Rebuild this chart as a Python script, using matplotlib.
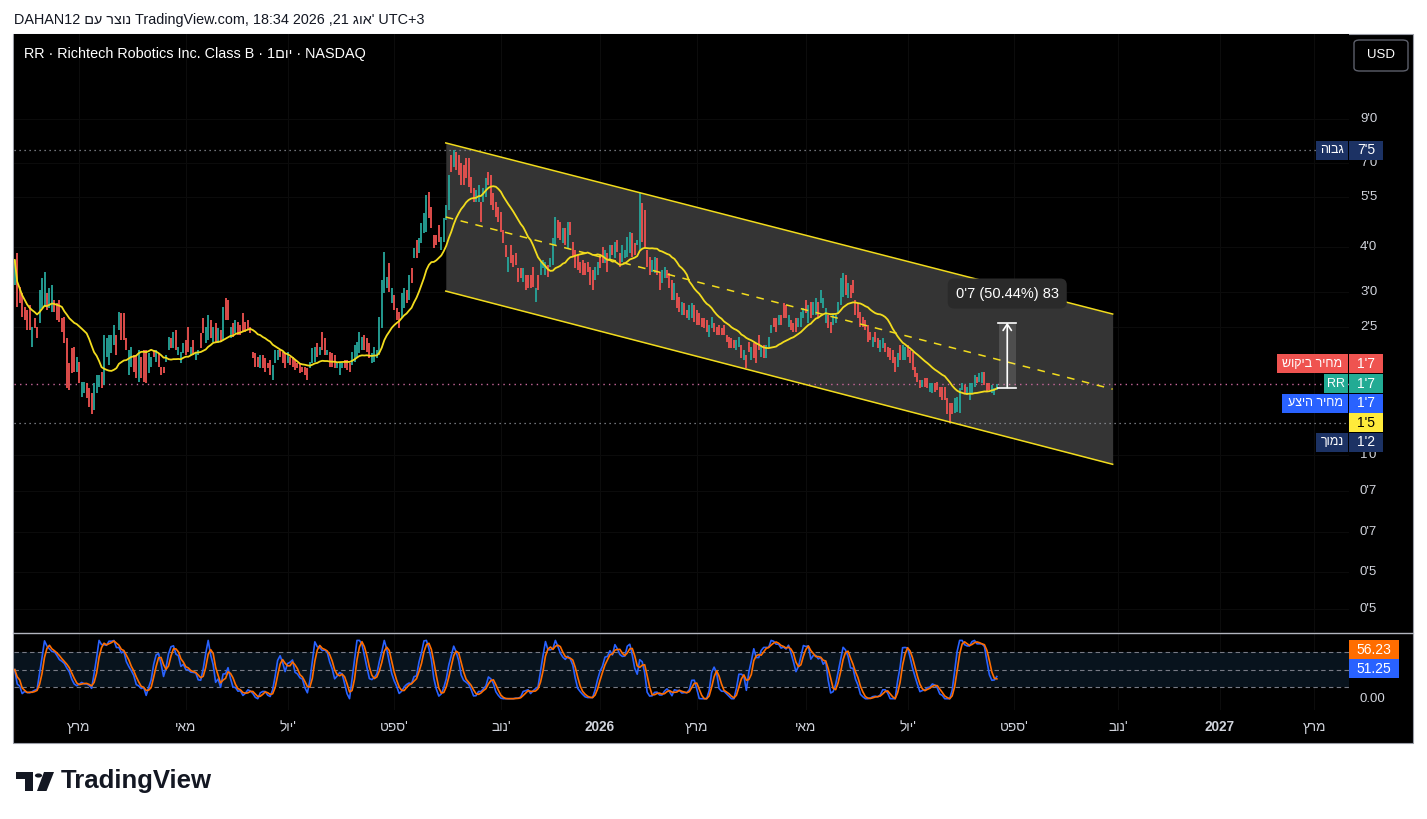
import numpy as np
import pandas as pd
import matplotlib
matplotlib.use('Agg')
import matplotlib.pyplot as plt
from matplotlib.patches import Rectangle, FancyBboxPatch, Polygon, Circle
from matplotlib.lines import Line2D
from matplotlib.transforms import blended_transform_factory
from pandas.tseries.holiday import USFederalHolidayCalendar
from pandas.tseries.offsets import CustomBusinessDay

W, H = 1427, 819
plt.rcParams['font.family'] = ['Liberation Sans', 'DejaVu Sans']

UP, DOWN = '#26a69a', '#ef5350'
YELLOW = '#f2dc1d'
TEXT = '#d1d4dc'

# daily bars of RR (last bar = 21 Aug 2026)
opens = [
    3.19, 3.90, 3.15, 3.03, 2.78, 2.73, 2.82, 2.16, 2.60, 2.45, 2.52, 2.76,
    2.78, 3.03, 2.76, 2.69, 2.90, 2.85, 2.90, 2.60, 2.61, 2.29, 1.96, 2.15,
    2.16, 1.85, 1.97, 1.58, 1.62, 1.73, 1.68, 1.62, 1.46, 1.62, 1.69, 1.85,
    1.71, 2.03, 1.94, 2.09, 2.19, 2.33, 2.41, 2.68, 2.68, 2.29, 1.82, 1.91,
    2.06, 2.06, 1.74, 2.03, 2.12, 2.12, 1.84, 1.91, 2.12, 1.97, 2.09, 1.91,
    1.91, 1.97, 2.12, 2.29, 2.15, 2.41, 2.06, 1.96, 2.09, 2.26, 2.45, 2.06,
    2.26, 2.00, 2.06, 2.36, 2.60, 2.22, 2.26, 2.56, 2.23, 2.52, 2.22, 2.41,
    2.26, 2.94, 2.90, 2.29, 2.52, 2.36, 2.53, 2.48, 2.68, 2.53, 2.56, 2.45,
    2.10, 2.09, 2.03, 1.90, 2.06, 2.02, 1.96, 2.00, 1.76, 1.96, 2.00, 2.12,
    2.10, 2.09, 1.96, 2.03, 2.03, 2.00, 1.96, 1.96, 1.91, 1.91, 1.90, 1.90,
    1.96, 1.97, 2.22, 2.06, 2.38, 2.29, 2.06, 2.10, 2.09, 2.06, 1.90, 1.82,
    1.90, 2.00, 2.00, 1.96, 1.94, 1.97, 2.03, 2.09, 2.12, 2.33, 2.29, 2.22,
    1.96, 1.97, 2.02,
    2.06, 2.44, 3.03, 3.13, 3.66, 2.85, 3.00, 2.76, 2.69, 2.60, 2.76, 3.09,
    2.90, 3.55, 3.78, 4.22, 3.90, 4.15, 4.41, 4.44, 5.70, 5.19, 4.36, 4.36,
    4.64, 3.97, 4.17, 4.79, 5.10, 7.19, 6.67, 7.32, 7.19,
    6.84, 6.75, 7.05, 7.05, 6.26, 5.85, 5.36, 5.36, 5.36, 5.36, 5.53, 6.46,
    6.34, 5.67, 5.36, 5.19, 5.03, 4.50, 4.09, 3.46, 4.09, 3.85, 3.90, 3.55,
    3.55, 3.25, 3.39, 3.39, 3.39, 3.57, 2.87, 3.39, 3.39, 3.55, 3.39, 3.61,
    3.57, 3.61, 4.09, 4.79, 4.73, 4.15, 4.55, 4.02, 4.73, 4.17, 3.97, 3.85,
    3.68, 3.73, 3.66, 3.68, 3.57, 3.50, 3.29, 3.39, 3.85, 4.04, 3.66, 3.90,
    3.73, 4.09, 3.78, 4.22, 3.90, 3.68, 3.78, 3.80, 3.90, 4.41, 4.15, 4.09,
    3.97, 5.32, 5.10, 3.97, 3.80, 3.46, 3.44, 3.78, 3.46, 3.23, 3.33, 3.50,
    3.44, 3.29, 2.90, 3.03, 2.96, 2.64, 2.85, 2.73, 2.56, 2.60, 2.82, 2.73,
    2.68,
    2.60, 2.60, 2.56, 2.30, 2.44, 2.52, 2.45, 2.48, 2.44, 2.48, 2.33, 2.30,
    2.29, 2.26, 2.12, 2.16, 2.19, 2.00, 2.06, 2.23, 2.00, 2.22, 2.22, 2.33,
    2.03, 2.19, 2.02, 2.16, 2.36, 2.60, 2.60, 2.48, 2.64, 2.85, 2.82, 2.45,
    2.56, 2.52, 2.60, 2.45, 2.45, 2.60, 2.90, 2.52, 2.87, 2.64, 2.64, 2.87,
    2.85, 2.76, 2.52, 2.64, 2.53, 2.48, 2.52, 2.68, 2.82, 2.96, 3.39, 2.94,
    3.19, 3.29, 2.90, 2.85, 2.69, 2.61, 2.56, 2.48, 2.38, 2.16, 2.38, 2.29,
    2.10, 2.15, 2.22, 2.16, 2.15, 2.12, 2.03, 1.91, 2.19, 2.00, 2.00, 2.19,
    2.12, 2.10, 1.91, 1.84, 1.76, 1.69, 1.78, 1.78, 1.63, 1.62, 1.73, 1.74,
    1.69, 1.69, 1.69, 1.57, 1.53, 1.53, 1.43, 1.44, 1.43, 1.65, 1.71, 1.60,
    1.55, 1.62, 1.69, 1.80, 1.74, 1.73, 1.85, 1.73, 1.73, 1.62, 1.60, 1.65,
]
closes = [
    3.73, 2.78, 2.85, 2.61, 2.56, 2.41, 2.41, 2.45, 2.44, 2.29, 3.09, 3.33,
    3.46, 2.73, 3.13, 3.19, 2.69, 2.56, 2.53, 2.38, 2.22, 1.68, 1.65, 1.84,
    1.85, 2.03, 1.73, 1.74, 1.74, 1.57, 1.49, 1.42, 1.73, 1.82, 1.82, 1.68,
    2.33, 2.29, 2.33, 2.33, 2.48, 2.06, 2.69, 2.26, 2.26, 2.12, 2.12, 2.16,
    1.85, 1.78, 2.12, 1.78, 1.74, 1.73, 2.09, 2.03, 2.03, 2.12, 1.91, 1.82,
    1.84, 2.06, 2.30, 2.15, 2.38, 2.12, 2.16, 2.10, 2.22, 2.06, 2.10, 2.16,
    2.06, 2.10, 2.12, 2.15, 2.36, 2.45, 2.64, 2.29, 2.45, 2.22, 2.44, 2.23,
    2.78, 2.56, 2.56, 2.45, 2.30, 2.56, 2.33, 2.33, 2.38, 2.38, 2.41, 2.36,
    2.02, 1.91, 1.91, 2.06, 1.90, 1.85, 1.90, 1.82, 1.94, 2.12, 2.12, 2.03,
    1.96, 1.90, 2.10, 1.94, 1.91, 1.88, 1.90, 1.84, 1.85, 1.82, 1.76, 1.97,
    2.15, 2.16, 2.03, 2.16, 2.12, 2.06, 2.12, 1.91, 1.91, 1.90, 1.96, 1.97,
    1.96, 1.90, 1.88, 1.85, 2.10, 2.19, 2.23, 2.38, 2.30, 2.12, 2.10, 2.02,
    2.09, 2.16, 2.12,
    2.61, 3.29, 3.92, 3.35, 3.05, 3.13, 2.73, 2.56, 2.44, 3.03, 3.13, 2.85,
    3.39, 3.23, 4.02, 3.78, 4.28, 4.70, 5.00, 5.60, 4.85, 4.55, 4.02, 4.09,
    4.17, 4.30, 4.85, 5.26, 6.34, 6.46, 7.41, 6.54, 6.34,
    5.96, 5.96, 6.22, 5.88, 5.67, 5.36, 5.77, 5.96, 4.73, 5.85, 6.22, 5.96,
    5.26, 5.10, 4.88, 4.73, 4.44, 4.15, 3.80, 3.80, 3.66, 3.57, 3.61, 3.25,
    3.33, 3.55, 3.09, 3.13, 3.13, 3.15, 3.13, 3.09, 3.68, 3.73, 3.68, 3.35,
    3.78, 4.28, 4.88, 4.28, 4.22, 4.55, 4.09, 4.73, 4.36, 3.80, 3.55, 3.50,
    3.44, 3.39, 3.39, 3.46, 3.19, 3.09, 3.57, 3.68, 3.55, 3.66, 3.97, 3.46,
    4.09, 3.85, 4.17, 3.92, 3.57, 4.09, 3.97, 4.30, 4.44, 3.80, 3.85, 4.22,
    5.67, 4.17, 4.02, 3.57, 3.39, 3.73, 3.80, 3.39, 3.09, 3.50, 3.57, 3.33,
    3.13, 2.90, 3.23, 2.76, 2.69, 2.87, 2.64, 2.60, 2.82, 2.85, 2.53, 2.48,
    2.48,
    2.45, 2.44, 2.38, 2.48, 2.61, 2.38, 2.33, 2.33, 2.33, 2.33, 2.23, 2.15,
    2.15, 2.15, 2.26, 2.30, 2.02, 2.12, 1.90, 2.10, 2.16, 2.02, 1.96, 2.12,
    2.19, 2.02, 2.19, 2.30, 2.48, 2.45, 2.38, 2.64, 2.48, 2.60, 2.60, 2.64,
    2.41, 2.38, 2.38, 2.60, 2.69, 2.76, 2.68, 2.82, 2.60, 2.87, 2.94, 2.60,
    3.09, 2.94, 2.76, 2.44, 2.36, 2.64, 2.64, 2.87, 3.33, 3.44, 3.00, 3.23,
    2.94, 3.03, 2.64, 2.60, 2.45, 2.45, 2.41, 2.23, 2.26, 2.30, 2.23, 2.15,
    2.26, 2.29, 2.10, 2.03, 2.00, 1.96, 1.85, 2.09, 2.00, 2.19, 2.16, 2.03,
    1.96, 1.88, 1.80, 1.74, 1.68, 1.76, 1.69, 1.68, 1.73, 1.73, 1.63, 1.65,
    1.58, 1.55, 1.55, 1.42, 1.35, 1.42, 1.57, 1.58, 1.68, 1.73, 1.62, 1.69,
    1.73, 1.73, 1.82, 1.73, 1.84, 1.85, 1.71, 1.63, 1.65, 1.71, 1.68, 1.72,
]

LAST_DAY = '2026-08-21'
FUTURE_BARS = 145

# parallel channel drawn by the user (bar index, price)
channel_x = [173.8, 442.7]
channel_top = [7.75, 2.66]
channel_bottom = [3.07, 1.04]

# price range tool
measure_x = [396.8, 403.6]
measure_from, measure_to = 1.68, 2.52
measure_text = "0'7 (50.44%) 83"

price_ticks = [9.0, 6.84, 5.53, 4.04, 3.05, 2.45, 1.10, 0.88, 0.68, 0.53, 0.42]
price_labels = ["9'0", "7'0", "5'5", "4'0", "3'0", "2'5", "1'0", "0'7", "0'7", "0'5", "0'5"]

stoch_k_last, stoch_d_last = 51.25, 56.23

months_he = {3: 'מרץ', 5: 'מאי', 7: "יול'", 9: "ספט'", 11: "נוב'"}


def vis(s):
    # matplotlib has no bidi: put the Hebrew letters in visual order
    tail = ''
    if s.endswith("'"):
        s, tail = s[:-1], "'"
    return s[::-1] + tail


def fx(x):
    return x / W


def fy(y):
    return 1 - y / H


# indicators
close_s = pd.Series(closes)
ma = close_s.rolling(20, min_periods=1).mean()
delta = close_s.diff().fillna(0)
gain = delta.clip(lower=0).ewm(alpha=1 / 14, adjust=False).mean()
loss = (-delta.clip(upper=0)).ewm(alpha=1 / 14, adjust=False).mean()
rsi = 100 - 100 / (1 + gain / loss)
rsi = rsi.fillna(50)
lo = rsi.rolling(14, min_periods=1).min()
hi = rsi.rolling(14, min_periods=1).max()
stoch = ((rsi - lo) / (hi - lo) * 100).fillna(50)
k_line = stoch.rolling(3, min_periods=1).mean()
d_line = k_line.rolling(3, min_periods=1).mean()

# calendar for the time axis
n = len(closes)
cbd = CustomBusinessDay(calendar=USFederalHolidayCalendar())
dates = pd.date_range(end=LAST_DAY, periods=n, freq=cbd)
future = pd.date_range(start=dates[-1] + cbd, periods=FUTURE_BARS, freq=cbd)
all_dates = dates.append(future)
tick_pos, tick_lab, tick_bold = [], [], []
for i in range(1, len(all_dates)):
    m = all_dates[i].month
    if m != all_dates[i - 1].month and m % 2 == 1:
        tick_pos.append(i)
        if m == 1:
            tick_lab.append(str(all_dates[i].year))
            tick_bold.append(True)
        else:
            tick_lab.append(vis(months_he[m]))
            tick_bold.append(False)

fig = plt.figure(figsize=(W / 100, H / 100), dpi=100)
fig.patch.set_facecolor('white')
fig.add_artist(Rectangle((fx(13), fy(743)), 1400 / W, 709 / H, transform=fig.transFigure,
                         fc='black', ec='#9a9da6', lw=0.8, zorder=-5))

ax = fig.add_axes([fx(14), fy(632), 1335 / W, 598 / H])
ax2 = fig.add_axes([fx(14), fy(710), 1335 / W, 76 / H])
XLIM = (-0.3, 538.0)
for a in (ax, ax2):
    a.set_facecolor('black')
    for s in a.spines.values():
        s.set_visible(False)
    a.tick_params(which='both', left=False, bottom=False, labelleft=False, labelbottom=False)
    a.set_xlim(*XLIM)
ax.set_yscale('log')
ax.set_ylim(0.3646, 15.31)
ax.yaxis.set_minor_locator(plt.NullLocator())
ax2.set_ylim(-19.4, 111)

# grid (barely visible on the dark theme)
for p in tick_pos:
    ax.axvline(p, color='#0c0c0c', lw=0.8, zorder=0.1)
    ax2.axvline(p, color='#0c0c0c', lw=0.8, zorder=0.1)
for p in price_ticks:
    ax.axhline(p, color='#0b0b0b', lw=0.8, zorder=0.1)

# channel
ax.fill_between(channel_x, channel_bottom, channel_top, color='#343434', lw=0, zorder=0.5)
ax.plot(channel_x, channel_top, color=YELLOW, lw=1.1, zorder=3)
ax.plot(channel_x, channel_bottom, color=YELLOW, lw=1.1, zorder=3)
ax.plot(channel_x, np.sqrt(np.array(channel_top) * np.array(channel_bottom)),
        color=YELLOW, lw=1.1, dashes=(5, 5), zorder=3)

# price lines
o = np.array(opens)
c = np.array(closes)
hi_price = max(o.max(), c.max())
lo_price = min(o.min(), c.min())
ax.axhline(hi_price, color='#9598a1', lw=0.9, ls=(0, (1, 3)), zorder=1.5)
ax.axhline(lo_price, color='#9598a1', lw=0.9, ls=(0, (1, 3)), zorder=1.5)
ax.axhline(closes[-1], color='#c8679b', lw=1.0, ls=(0, (1, 3)), zorder=1.5)

# candles
x = np.arange(n)
cols = np.where(c >= o, UP, DOWN)
ax.vlines(x, np.minimum(o, c), np.maximum(o, c), colors=cols, lw=1.3, zorder=2)
ax.plot(x, ma, color=YELLOW, lw=1.3, zorder=3.5)

# measurement
ax.fill_between(measure_x, measure_from, measure_to, color='white', alpha=0.13, lw=0, zorder=4)
ax.plot([measure_x[0] - 0.2, measure_x[1] + 0.2], [measure_to] * 2, color='white', lw=1.2, zorder=4.5)
ax.plot([measure_x[0] - 0.2, measure_x[1] + 0.2], [measure_from] * 2, color='white', lw=1.2, zorder=4.5)
xc = sum(measure_x) / 2
ax.annotate('', xy=(xc, measure_to), xytext=(xc, measure_from),
            arrowprops=dict(arrowstyle='->,head_length=0.45,head_width=0.3', color='white',
                            lw=1.2, shrinkA=0, shrinkB=0), zorder=4.5)
ax.annotate(measure_text, xy=(xc, measure_to), xytext=(0, 21), textcoords='offset points',
            ha='center', va='center', color='white', fontsize=10.5, zorder=5,
            bbox=dict(boxstyle='round,pad=0.55,rounding_size=0.45', fc='#2a2a2a', ec='none'))

# oscillator
ax2.axhspan(20, 80, color='#08131d', lw=0, zorder=0.3)
for lvl in (20, 50, 80):
    ax2.axhline(lvl, color='#787b86', lw=0.8, dashes=(4, 3), zorder=0.5)
ax2.plot(x, k_line, color='#2962ff', lw=1.2, zorder=2)
ax2.plot(x, d_line, color='#ff6d00', lw=1.2, zorder=2.5)

# price scale labels
ytrans = blended_transform_factory(fig.transFigure, ax.transData)
for p, lab in zip(price_ticks, price_labels):
    ax.text(fx(1360), p, lab, transform=ytrans, ha='left', va='center', color=TEXT, fontsize=9.5)
ytrans2 = blended_transform_factory(fig.transFigure, ax2.transData)
ax2.text(fx(1360), 0, '0.00', transform=ytrans2, ha='left', va='center', color=TEXT, fontsize=9.5)

# time labels
xtrans = blended_transform_factory(ax2.transData, fig.transFigure)
for p, lab, b in zip(tick_pos, tick_lab, tick_bold):
    if XLIM[0] < p < XLIM[1]:
        ax2.text(p, fy(727), lab, transform=xtrans, ha='center', va='center', color=TEXT,
                 fontsize=9.8, fontweight='bold' if b else 'normal')


def py(axis, val):
    return H - axis.transData.transform((0, val))[1]


def tag(y, value, color, name=None, x0=None, txt='white', x1=1383):
    fig.add_artist(Rectangle((fx(1349), fy(y + 9.5)), (x1 - 1349) / W, 19 / H,
                             transform=fig.transFigure, fc=color, ec='none', zorder=4))
    fig.text(fx((1349 + x1) / 2), fy(y), value, ha='center', va='center', color=txt,
             fontsize=10, zorder=5)
    if name:
        fig.add_artist(Rectangle((fx(x0), fy(y + 9.5)), (1348 - x0) / W, 19 / H,
                                 transform=fig.transFigure, fc=color, ec='none', zorder=4))
        fig.text(fx((x0 + 1348) / 2), fy(y), name, ha='center', va='center', color=txt,
                 fontsize=9, zorder=5)


y_last = py(ax, closes[-1])
y_low = py(ax, lo_price)
tag(py(ax, hi_price), "7'5", '#1c3264', vis('גבוה'), 1316)
tag(y_last - 20, "1'7", '#ef5350', vis('מחיר ביקוש'), 1277)
tag(y_last, "1'7", '#22ab94', 'RR', 1324)
tag(y_last + 19.5, "1'7", '#2962ff', vis('מחיר היצע'), 1282)
tag(y_low, "1'5", '#ffeb3b', txt='black')
tag(y_low + 19.5, "1'2", '#1c3264', vis('נמוך'), 1316)

y_k = py(ax2, stoch_k_last)
tag(y_k, f'{stoch_k_last:.2f}', '#2962ff', x1=1399)
tag(y_k - 19, f'{stoch_d_last:.2f}', '#ff6d00', x1=1399)

# pane separator
fig.add_artist(Line2D([fx(13), fx(1413)], [fy(633), fy(633)], transform=fig.transFigure,
                      color='#b2b5be', lw=1.0, zorder=3))

# header texts
fig.text(fx(14), fy(20), 'DAHAN12 ' + vis('נוצר עם') + ' TradingView.com, 18:34 2026 ,21 '
         + vis("אוג'") + ' UTC+3', ha='left', va='center', color='#131722', fontsize=10.4)
fig.text(fx(24), fy(54), 'RR · Richtech Robotics Inc. Class B · 1' + vis('יום') + ' · NASDAQ',
         ha='left', va='center', color='white', fontsize=10.4)
fig.add_artist(FancyBboxPatch((fx(1354), fy(71)), 54 / W, 31 / H, transform=fig.transFigure,
                              boxstyle='round,pad=0,rounding_size=0.004', fc='black',
                              ec='#5d606b', lw=1.0, zorder=4))
fig.text(fx(1381), fy(55.5), 'USD', ha='center', va='center', color='white', fontsize=9.5, zorder=5)

# TradingView logo
fig.add_artist(Polygon([(fx(16), fy(772)), (fx(33), fy(772)), (fx(33), fy(791)), (fx(25), fy(791)),
                        (fx(25), fy(779)), (fx(16), fy(779))], closed=True,
                       transform=fig.transFigure, fc='#131722', ec='none'))
fig.add_artist(Circle((fx(38.5), fy(775.5)), 3.6 / W, transform=fig.transFigure, fc='#131722', ec='none'))
fig.add_artist(Polygon([(fx(44), fy(772)), (fx(54), fy(772)), (fx(46.5), fy(791)), (fx(37), fy(791))],
                       closed=True, transform=fig.transFigure, fc='#131722', ec='none'))
fig.text(fx(61), fy(781), 'TradingView', ha='left', va='center', color='#131722',
         fontsize=18.5, fontweight='bold')

fig.savefig('out.png', dpi=100)
